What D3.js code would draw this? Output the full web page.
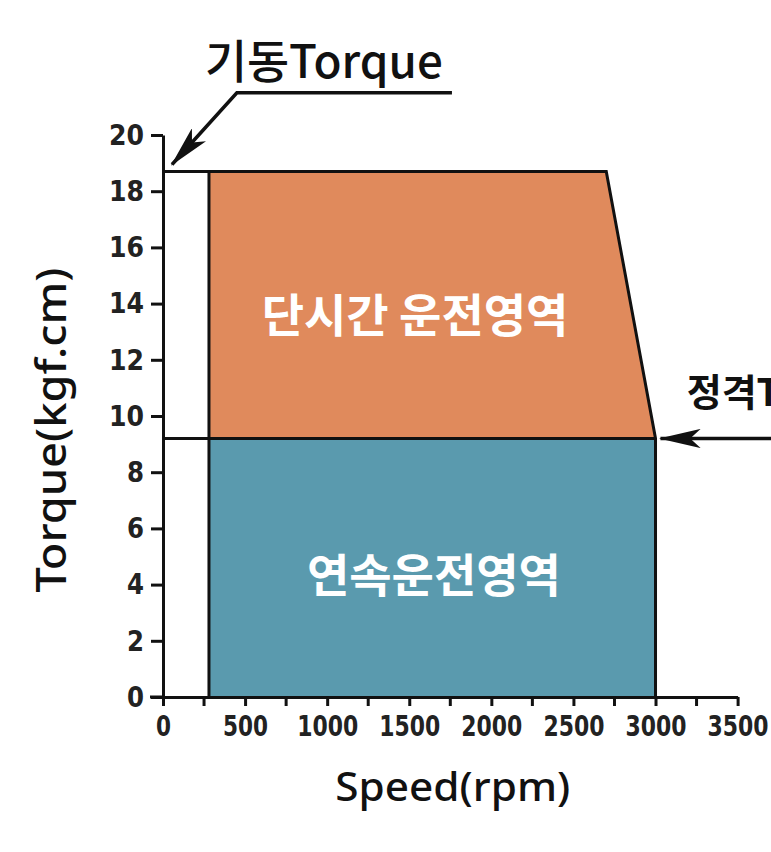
<!DOCTYPE html>
<html>
<head>
<meta charset="utf-8">
<script src="https://cdn.jsdelivr.net/npm/d3@7"></script>
<style>
  body { margin: 0; background: #fff; }
  svg { display: block; }
  .tick text { font-family: "DejaVu Sans Condensed", "DejaVu Sans", sans-serif; font-weight: bold; }
</style>
</head>
<body>
<svg id="chart" width="771" height="852"></svg>
<script>
// axis ticks
var xTicks = [0, 500, 1000, 1500, 2000, 2500, 3000, 3500];
var xMinorTicks = [250, 750, 1250, 1750, 2250, 2750, 3250];
var yTicks = [0, 2, 4, 6, 8, 10, 12, 14, 16, 18, 20];

// operating zones (rpm, kgf.cm)
var startTorque = 18.7;
var ratedTorque = 9.2;
var minSpeed = 280;
var kneeSpeed = 2700;
var maxSpeed = 3000;
var shortZone = [[minSpeed, ratedTorque], [minSpeed, startTorque], [kneeSpeed, startTorque], [maxSpeed, ratedTorque]];
var contZone = [[minSpeed, 0], [minSpeed, ratedTorque], [maxSpeed, ratedTorque], [maxSpeed, 0]];
var zoneNames = ["단시간 운전영역", "연속운전영역"];
var zoneColors = ["#e08a5c", "#5a9aae"];

var svg = d3.select("#chart");

//scales
var x = d3.scaleLinear().domain([0, 3500]).range([163, 737.6]);
var y = d3.scaleLinear().domain([0, 20]).range([697, 135]);

var line = d3.line()
  .x(function(d) { return x(d[0]); })
  .y(function(d) { return y(d[1]); });

// zone fills
svg.append("path").attr("d", line(shortZone) + "Z").attr("fill", zoneColors[0]);
svg.append("path").attr("d", line(contZone) + "Z").attr("fill", zoneColors[1]);

// outlines
var outlines = [
  [[0, startTorque], [kneeSpeed, startTorque], [maxSpeed, ratedTorque], [maxSpeed, 0]],
  [[0, ratedTorque], [maxSpeed, ratedTorque]],
  [[minSpeed, 0], [minSpeed, startTorque]]
];
outlines.forEach(function(o) {
  svg.append("path").attr("d", line(o))
    .attr("fill", "none").attr("stroke", "#111").attr("stroke-width", 3);
});

// zone labels
svg.append("text").attr("x", x(1535)).attr("y", y(13.0))
  .attr("text-anchor", "middle").attr("fill", "#fff")
  .style("font-family", "Noto Sans CJK KR").style("font-weight", 700).style("font-size", "46px")
  .text(zoneNames[0]);
svg.append("text").attr("x", x(1650)).attr("y", y(3.75))
  .attr("text-anchor", "middle").attr("fill", "#fff")
  .style("font-family", "Noto Sans CJK KR").style("font-weight", 700).style("font-size", "46px")
  .text(zoneNames[1]);

//axes
var xAxis = svg.append("g").attr("transform", "translate(0," + y(0) + ")")
  .call(d3.axisBottom(x).tickValues(xTicks).tickFormat(d3.format("d"))
    .tickSize(9).tickSizeOuter(0).tickPadding(9));
xAxis.append("g").selectAll("line").data(xMinorTicks).enter().append("line")
  .attr("x1", function(d) { return x(d); }).attr("x2", function(d) { return x(d); })
  .attr("y1", 0).attr("y2", 9).attr("stroke", "#111").attr("stroke-width", 3);
var yAxis = svg.append("g").attr("transform", "translate(" + x(0) + ",0)")
  .call(d3.axisLeft(y).tickValues(yTicks).tickSize(12).tickSizeOuter(0).tickPadding(7));

[xAxis, yAxis].forEach(function(a) {
  a.select(".domain").attr("stroke", "#111").attr("stroke-width", 3);
  a.selectAll(".tick line").attr("stroke", "#111").attr("stroke-width", 3);
  a.selectAll(".tick text").attr("fill", "#222").style("font-size", "29px")
    .attr("lengthAdjust", "spacingAndGlyphs");
});
xAxis.selectAll(".tick text").attr("textLength", function(d) { return d === 0 ? 15 : (d < 1000 ? 45 : 61); });
yAxis.selectAll(".tick text").attr("textLength", function(d) { return d < 10 ? 17 : 35; });
// extend x axis line a bit left like the picture
svg.append("line").attr("x1", x(0) - 13).attr("x2", x(0)).attr("y1", y(0)).attr("y2", y(0))
  .attr("stroke", "#111").attr("stroke-width", 3);

// axis titles
svg.append("text").attr("transform", "translate(66," + y(9.5) + ") rotate(-90)")
  .attr("text-anchor", "middle").attr("fill", "#111")
  .attr("textLength", 325).attr("lengthAdjust", "spacingAndGlyphs")
  .style("font-family", "Noto Sans").style("font-weight", 500).style("font-size", "41px")
  .text("Torque(kgf.cm)");
svg.append("text").attr("x", x(1765)).attr("y", 801)
  .attr("text-anchor", "middle").attr("fill", "#111")
  .attr("textLength", 235).attr("lengthAdjust", "spacingAndGlyphs")
  .style("font-family", "Noto Sans").style("font-weight", 500).style("font-size", "39px")
  .text("Speed(rpm)");

// arrow marker: long dart with a notch
svg.append("defs").append("marker").attr("id", "arrow")
  .attr("viewBox", "0 0 24 11").attr("refX", 23).attr("refY", 5.5)
  .attr("markerWidth", 12).attr("markerHeight", 5.5).attr("markerUnits", "strokeWidth")
  .attr("orient", "auto")
  .append("path").attr("d", "M0,0 L24,5.5 L0,11 L6,5.5 Z").attr("fill", "#111");

// 기동Torque callout
svg.append("path").attr("d", line([[1760, 21.5], [450, 21.5], [55, 18.95]]))
  .attr("fill", "none").attr("stroke", "#111").attr("stroke-width", 3.5)
  .attr("marker-end", "url(#arrow)");
svg.append("text").attr("x", x(980)).attr("y", 78)
  .attr("text-anchor", "middle").attr("fill", "#111")
  .attr("textLength", 238).attr("lengthAdjust", "spacingAndGlyphs")
  .style("font-family", "Noto Sans CJK KR").style("font-weight", 500).style("font-size", "46px")
  .text("기동Torque");

// 정격Torque callout (cut by the right edge, as in the picture)
svg.append("path").attr("d", line([[3720, ratedTorque], [3030, ratedTorque]]))
  .attr("fill", "none").attr("stroke", "#111").attr("stroke-width", 3.5)
  .attr("marker-end", "url(#arrow)");
svg.append("text").attr("x", x(3190)).attr("y", y(10.35))
  .attr("fill", "#111")
  .style("font-family", "Noto Sans CJK KR").style("font-weight", 700).style("font-size", "38px")
  .text("정격Torque");
</script>
</body>
</html>
